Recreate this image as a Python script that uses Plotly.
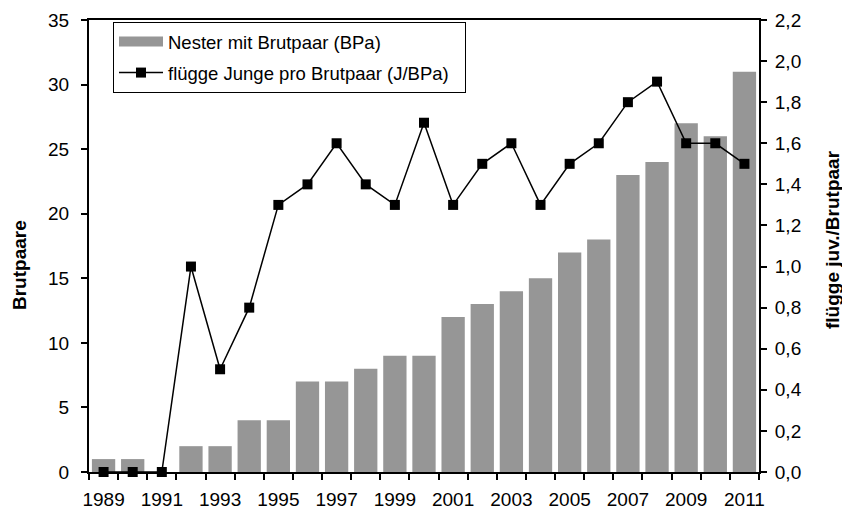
import plotly.graph_objects as go

years = list(range(1989, 2012))
brutpaare = [1, 1, 0, 2, 2, 4, 4, 7, 7, 8, 9, 9, 12, 13, 14, 15, 17, 18, 23, 24, 27, 26, 31]
juv_pro_bp = [0.0, 0.0, 0.0, 1.0, 0.5, 0.8, 1.3, 1.4, 1.6, 1.4, 1.3, 1.7, 1.3, 1.5, 1.6,
              1.3, 1.5, 1.6, 1.8, 1.9, 1.6, 1.6, 1.5]
label_years = years[::2]

FONT = "Liberation Sans, Arial, sans-serif"
BAR_GREY = "#969696"

# the page body has an 8px margin, so the figure starts at (8, 8) in the window
W, H = 842, 502
ML, MT, MR, MB = 81, 12, 91, 38
PW = W - ML - MR
PH = H - MT - MB


def px_x(x):
    return (x - 8 - ML) / PW


def px_y(y):
    return (H - MB - (y - 8)) / PH


fig = go.Figure()

fig.add_trace(
    go.Bar(
        x=years,
        y=brutpaare,
        name="Nester mit Brutpaar (BPa)",
        marker=dict(color=BAR_GREY, line=dict(width=0)),
        showlegend=False,
        yaxis="y",
    )
)

# legend entry for the bars: a wide grey swatch like the original
fig.add_trace(
    go.Scatter(
        x=[None],
        y=[None],
        mode="lines",
        name="Nester mit Brutpaar (BPa)",
        line=dict(color=BAR_GREY, width=10),
        legendgroup="bars",
        yaxis="y",
    )
)

fig.add_trace(
    go.Scatter(
        x=years,
        y=juv_pro_bp,
        mode="lines+markers",
        name="flügge Junge pro Brutpaar (J/BPa)\u00a0\u00a0",
        line=dict(color="black", width=1.5),
        marker=dict(symbol="square", size=10, color="black"),
        legendgroup="line",
        yaxis="y2",
        cliponaxis=False,
    )
)

boundaries = [y - 0.5 for y in years] + [years[-1] + 0.5]

fig.update_layout(
    width=W,
    height=H,
    margin=dict(l=ML, r=MR, t=MT, b=MB, autoexpand=False),
    plot_bgcolor="white",
    paper_bgcolor="white",
    separators=",.",
    bargap=0.2,
    font=dict(family=FONT, size=19, color="black"),
    showlegend=True,
    legend=dict(
        x=px_x(113),
        y=px_y(22),
        xanchor="left",
        yanchor="top",
        bgcolor="white",
        bordercolor="black",
        borderwidth=1,
        font=dict(size=18.5),
        traceorder="grouped",
        tracegroupgap=4,
        itemwidth=44,
    ),
    xaxis=dict(
        range=[years[0] - 0.5, years[-1] + 0.5],
        tickmode="array",
        tickvals=label_years,
        ticktext=[str(y) for y in label_years],
        ticks="",
        showline=True,
        linecolor="black",
        linewidth=2,
        mirror=True,
        showgrid=False,
        zeroline=False,
        automargin=False,
        ticklabelstandoff=9,
        minor=dict(
            tickmode="array",
            tickvals=boundaries,
            ticks="outside",
            ticklen=6,
            tickwidth=1.5,
            tickcolor="black",
            showgrid=False,
        ),
    ),
    yaxis=dict(
        range=[0, 35],
        dtick=5,
        ticks="outside",
        ticklen=6,
        tickwidth=1.5,
        tickcolor="black",
        showline=True,
        linecolor="black",
        linewidth=2,
        showgrid=False,
        zeroline=False,
        automargin=False,
        ticklabelstandoff=8,
    ),
    yaxis2=dict(
        range=[0, 2.2],
        dtick=0.2,
        tickformat=".1f",
        overlaying="y",
        side="right",
        ticks="outside",
        ticklen=6,
        tickwidth=1.5,
        tickcolor="black",
        showline=True,
        linecolor="black",
        linewidth=2,
        showgrid=False,
        zeroline=False,
        automargin=False,
        ticklabelstandoff=4,
    ),
    annotations=[
        dict(
            text="<b>Brutpaare</b>",
            textangle=-90,
            xref="paper",
            yref="paper",
            x=px_x(19),
            y=px_y(265),
            xanchor="center",
            yanchor="middle",
            showarrow=False,
            font=dict(size=19),
        ),
        dict(
            text="<b>flügge juv./Brutpaar</b>",
            textangle=-90,
            xref="paper",
            yref="paper",
            x=px_x(832),
            y=px_y(240),
            xanchor="center",
            yanchor="middle",
            showarrow=False,
            font=dict(size=19),
        ),
    ],
)

fig.write_html("out.html")
